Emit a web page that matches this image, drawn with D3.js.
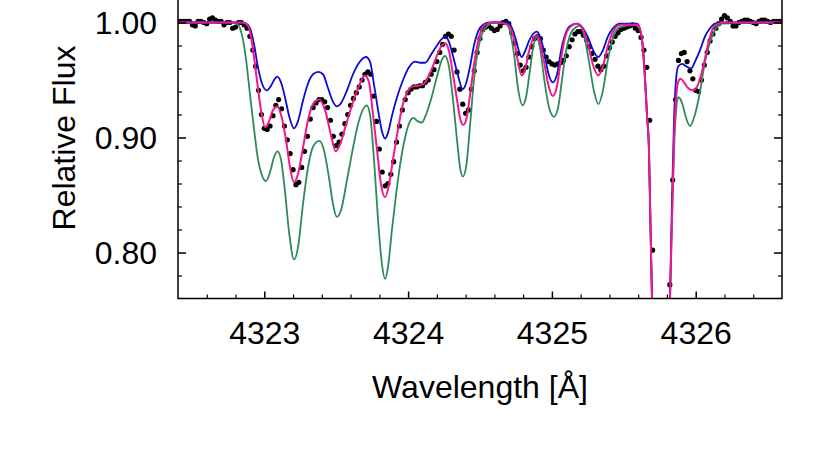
<!DOCTYPE html>
<html><head><meta charset="utf-8">
<script src="https://cdn.jsdelivr.net/npm/d3@7"></script>
<style>
body{margin:0;background:#fff}
svg{display:block}
text{font-family:"Liberation Sans",Arial,Helvetica,sans-serif;fill:#000}
</style>
</head><body>
<svg id="chart" width="830" height="461"></svg>
<script>
// ---------- data ----------
const xTickLabels = [4323, 4324, 4325, 4326];
const yTickLabels = [0.80, 0.90, 1.00];
const xMinorTicks = [4322.6,4322.8,4323.2,4323.4,4323.6,4323.8,4324.2,4324.4,4324.6,4324.8,4325.2,4325.4,4325.6,4325.8,4326.2,4326.4];
const yMinorTicks = [0.78,0.82,0.84,0.86,0.88,0.92,0.94,0.96,0.98];

// observed spectrum: sampled every 0.02 Å starting at 4322.40
const obsStart = 4322.40, obsStep = 0.02;
const obsFlux = [
1.001,1.001,1.001,1.001,1.001,0.998,0.997,1.001,1.001,1.000,
0.999,1.003,1.004,1.002,1.001,1.001,0.998,1.000,1.000,0.995,
0.996,1.000,1.000,0.998,0.995,0.988,0.976,0.962,0.941,0.920,
0.908,0.907,0.910,0.919,0.928,0.933,0.925,0.910,0.898,0.886,
0.872,0.859,0.861,0.874,0.888,0.901,0.916,0.926,0.930,0.933,
0.933,0.931,0.926,0.915,0.901,0.893,0.896,0.903,0.912,0.920,
0.928,0.934,0.939,0.944,0.950,0.955,0.957,0.955,0.936,0.914,
0.890,0.870,0.858,0.860,0.868,0.879,0.896,0.910,0.924,0.933,
0.939,0.942,0.944,0.944,0.945,0.945,0.948,0.950,0.955,0.959,
0.966,0.974,0.981,0.988,0.990,0.988,0.976,0.957,0.942,0.929,
0.921,0.924,0.942,0.958,0.974,0.986,0.994,0.996,0.997,0.995,
0.993,0.994,0.997,1.000,1.001,0.999,0.991,0.982,0.973,0.963,
0.958,0.961,0.970,0.979,0.986,0.988,0.986,0.976,0.970,0.966,
0.964,0.963,0.964,0.965,0.967,0.971,0.979,0.985,0.990,0.992,
0.992,0.989,0.985,0.979,0.973,0.968,0.962,0.959,0.962,0.971,
0.978,0.983,0.988,0.991,0.994,0.995,0.996,0.997,0.998,0.995,
0.993,0.987,0.976,0.961,0.915,0.802,0.672,0.542,0.454,0.542,
0.654,0.772,0.863,0.933,0.967,0.973,0.974,0.966,0.958,0.951,
0.941,0.940,0.950,0.963,0.974,0.984,0.990,0.995,0.999,1.003,
1.006,1.004,1.001,0.997,0.997,1.000,1.001,1.002,1.002,1.001,
1.000,0.999,1.001,1.002,1.002,1.001,1.000,1.001,1.001,1.001,
1.001];

const greenModel = [
[4322.400,1.000],[4322.803,1.000],[4322.831,0.995],[4322.852,0.985],[4322.873,0.968],
[4322.901,0.937],[4322.929,0.907],[4322.956,0.881],[4322.984,0.867],[4323.012,0.862],
[4323.040,0.870],[4323.068,0.883],[4323.091,0.888],[4323.116,0.881],[4323.144,0.853],
[4323.172,0.818],[4323.207,0.794],[4323.234,0.804],[4323.269,0.842],[4323.304,0.874],
[4323.339,0.892],[4323.383,0.897],[4323.415,0.889],[4323.450,0.865],[4323.478,0.842],
[4323.504,0.831],[4323.534,0.837],[4323.575,0.863],[4323.617,0.891],[4323.659,0.915],
[4323.712,0.928],[4323.735,0.920],[4323.763,0.881],[4323.791,0.828],[4323.819,0.789],
[4323.840,0.777],[4323.860,0.787],[4323.888,0.820],[4323.916,0.850],[4323.944,0.876],
[4323.979,0.900],[4324.013,0.914],[4324.036,0.917],[4324.069,0.914],[4324.095,0.913],
[4324.125,0.920],[4324.159,0.933],[4324.201,0.953],[4324.236,0.968],[4324.257,0.971],
[4324.285,0.961],[4324.312,0.933],[4324.340,0.898],[4324.361,0.874],[4324.380,0.866],
[4324.403,0.874],[4324.431,0.911],[4324.458,0.950],[4324.486,0.976],[4324.514,0.990],
[4324.549,0.997],[4324.604,1.000],[4324.681,0.999],[4324.709,0.992],[4324.737,0.972],
[4324.764,0.943],[4324.797,0.928],[4324.820,0.935],[4324.848,0.959],[4324.869,0.978],
[4324.894,0.987],[4324.917,0.978],[4324.945,0.952],[4324.980,0.926],[4325.015,0.918],
[4325.043,0.926],[4325.070,0.950],[4325.098,0.975],[4325.133,0.991],[4325.168,0.996],
[4325.196,0.997],[4325.223,0.989],[4325.258,0.966],[4325.293,0.940],[4325.323,0.929],
[4325.355,0.941],[4325.390,0.968],[4325.425,0.987],[4325.474,0.996],[4325.592,0.998],
[4325.613,0.994],[4325.634,0.976],[4325.648,0.950],[4325.661,0.920],[4325.675,0.889],
[4325.686,0.820],[4325.696,0.759],[4325.755,0.400],[4325.821,0.759],[4325.835,0.828],
[4325.849,0.889],[4325.863,0.922],[4325.879,0.935],[4325.905,0.930],[4325.933,0.917],
[4325.960,0.910],[4325.995,0.920],[4326.030,0.940],[4326.065,0.966],[4326.100,0.983],
[4326.141,0.995],[4326.183,0.999],[4326.600,1.000]];

const blueModel = [
[4322.400,1.000],[4322.831,1.000],[4322.873,0.999],[4322.901,0.995],[4322.929,0.981],
[4322.956,0.961],[4322.984,0.947],[4323.017,0.941],[4323.047,0.945],[4323.068,0.950],
[4323.091,0.953],[4323.116,0.948],[4323.144,0.935],[4323.172,0.919],[4323.207,0.908],
[4323.234,0.914],[4323.269,0.932],[4323.304,0.947],[4323.339,0.955],[4323.376,0.957],
[4323.408,0.955],[4323.443,0.943],[4323.478,0.931],[4323.504,0.927],[4323.534,0.930],
[4323.575,0.941],[4323.617,0.955],[4323.659,0.965],[4323.707,0.970],[4323.735,0.966],
[4323.763,0.946],[4323.791,0.924],[4323.819,0.905],[4323.840,0.899],[4323.860,0.904],
[4323.888,0.919],[4323.923,0.935],[4323.965,0.950],[4324.006,0.961],[4324.048,0.966],
[4324.083,0.965],[4324.118,0.965],[4324.159,0.972],[4324.201,0.980],[4324.229,0.985],
[4324.257,0.988],[4324.285,0.983],[4324.312,0.971],[4324.347,0.954],[4324.380,0.942],
[4324.403,0.947],[4324.431,0.962],[4324.458,0.980],[4324.486,0.992],[4324.521,0.998],
[4324.570,1.000],[4324.695,1.000],[4324.723,0.995],[4324.750,0.985],[4324.771,0.975],
[4324.790,0.970],[4324.813,0.975],[4324.841,0.984],[4324.869,0.990],[4324.894,0.992],
[4324.917,0.988],[4324.945,0.975],[4324.973,0.957],[4325.006,0.948],[4325.036,0.955],
[4325.063,0.975],[4325.091,0.989],[4325.126,0.997],[4325.175,0.999],[4325.216,0.995],
[4325.251,0.987],[4325.286,0.976],[4325.323,0.970],[4325.355,0.976],[4325.390,0.988],
[4325.425,0.995],[4325.474,0.999],[4325.592,0.999],[4325.613,0.994],[4325.634,0.976],
[4325.648,0.950],[4325.661,0.920],[4325.675,0.889],[4325.686,0.820],[4325.696,0.759],
[4325.755,0.400],[4325.821,0.759],[4325.835,0.846],[4325.849,0.915],[4325.863,0.950],
[4325.879,0.962],[4325.905,0.964],[4325.933,0.962],[4325.967,0.960],[4325.995,0.966],
[4326.030,0.976],[4326.065,0.988],[4326.100,0.995],[4326.134,0.999],[4326.183,1.000],
[4326.600,1.000]];

const magentaModel = [
[4322.400,1.000],[4322.831,1.000],[4322.873,0.999],[4322.901,0.992],[4322.922,0.976],
[4322.949,0.950],[4322.977,0.924],[4323.005,0.909],[4323.033,0.914],[4323.061,0.924],
[4323.091,0.927],[4323.116,0.920],[4323.151,0.898],[4323.179,0.874],[4323.207,0.861],
[4323.234,0.868],[4323.269,0.891],[4323.304,0.915],[4323.339,0.929],[4323.381,0.933],
[4323.422,0.924],[4323.464,0.902],[4323.497,0.888],[4323.527,0.894],[4323.568,0.911],
[4323.610,0.928],[4323.652,0.943],[4323.700,0.954],[4323.728,0.948],[4323.756,0.920],
[4323.784,0.889],[4323.812,0.859],[4323.840,0.848],[4323.867,0.859],[4323.895,0.881],
[4323.923,0.902],[4323.958,0.926],[4323.992,0.939],[4324.025,0.944],[4324.069,0.945],
[4324.104,0.946],[4324.152,0.956],[4324.194,0.969],[4324.229,0.979],[4324.257,0.982],
[4324.285,0.975],[4324.312,0.955],[4324.340,0.933],[4324.361,0.917],[4324.384,0.911],
[4324.403,0.915],[4324.431,0.937],[4324.458,0.963],[4324.486,0.983],[4324.514,0.995],
[4324.549,0.999],[4324.604,1.000],[4324.674,0.999],[4324.709,0.996],[4324.737,0.985],
[4324.764,0.966],[4324.790,0.954],[4324.813,0.959],[4324.841,0.975],[4324.869,0.986],
[4324.894,0.989],[4324.917,0.983],[4324.945,0.966],[4324.973,0.947],[4325.006,0.936],
[4325.036,0.945],[4325.063,0.968],[4325.091,0.987],[4325.126,0.996],[4325.173,0.999],
[4325.216,0.994],[4325.251,0.981],[4325.286,0.963],[4325.323,0.954],[4325.355,0.962],
[4325.390,0.980],[4325.425,0.992],[4325.474,0.998],[4325.592,0.998],[4325.613,0.994],
[4325.634,0.976],[4325.648,0.950],[4325.661,0.920],[4325.675,0.889],[4325.686,0.820],
[4325.696,0.759],[4325.755,0.400],[4325.821,0.759],[4325.835,0.828],[4325.849,0.898],
[4325.863,0.933],[4325.877,0.948],[4325.894,0.951],[4325.919,0.948],[4325.947,0.943],
[4325.981,0.941],[4326.016,0.946],[4326.051,0.961],[4326.086,0.981],[4326.120,0.995],
[4326.155,0.999],[4326.204,1.000],[4326.600,1.000]];

const xLabel = "Wavelength [Å]";
const yLabel = "Relative Flux";

// ---------- drawing ----------
const svg = d3.select("#chart");
const L = 178, R = 782, T = -0.5, B = 298.5;
const x = d3.scaleLinear().domain([4322.4, 4326.6]).range([L, R]);
const y = d3.scaleLinear().domain([0.76, 1.02]).range([B, T]);

svg.append("defs").append("clipPath").attr("id","clip")
  .append("rect").attr("x",L).attr("y",T).attr("width",R-L).attr("height",B-T);

const plot = svg.append("g").attr("clip-path","url(#clip)");
const line = d3.line().x(d=>x(d[0])).y(d=>y(d[1])).curve(d3.curveMonotoneX);

const obs = obsFlux.map((f,i)=>[obsStart+i*obsStep, f]);
plot.append("g").selectAll("circle").data(obs).join("circle")
  .attr("cx",d=>x(d[0])).attr("cy",d=>y(d[1])).attr("r",2.6).attr("fill","#000");

plot.append("path").datum(greenModel).attr("d",line).attr("fill","none")
  .attr("stroke","#2e8b57").attr("stroke-width",1.8);
plot.append("path").datum(blueModel).attr("d",line).attr("fill","none")
  .attr("stroke","#0a0ad0").attr("stroke-width",1.8);
plot.append("path").datum(magentaModel).attr("d",line).attr("fill","none")
  .attr("stroke","#f0188c").attr("stroke-width",2);

// frame (left, bottom, right)
svg.append("path")
  .attr("d", d3.line()([[L,T],[L,B],[R,B],[R,T]]))
  .attr("fill","none").attr("stroke","#000").attr("stroke-width",1.5);

// axes with inward ticks
const axB = svg.append("g").attr("transform",`translate(0,${B})`)
  .call(d3.axisBottom(x).tickValues(xTickLabels).tickSize(-7).tickPadding(0).tickFormat(d3.format("d")));
axB.select(".domain").remove();
axB.selectAll("line").attr("stroke-width",1.5);
axB.selectAll("text").attr("font-size","32px").attr("y",45).attr("dy",0);
svg.append("g").attr("transform",`translate(0,${B})`)
  .call(d3.axisBottom(x).tickValues(xMinorTicks).tickSize(-4).tickFormat(""))
  .call(g=>{g.select(".domain").remove(); g.selectAll("line").attr("stroke-width",1.2);});

const axL = svg.append("g").attr("transform",`translate(${L},0)`)
  .call(d3.axisLeft(y).tickValues(yTickLabels).tickSize(-8).tickFormat(d3.format(".2f")));
axL.select(".domain").remove();
axL.selectAll("line").attr("stroke-width",1.5);
axL.selectAll("text").attr("font-size","32px").attr("x",-21).attr("dy","0.35em");
svg.append("g").attr("transform",`translate(${L},0)`)
  .call(d3.axisLeft(y).tickValues(yMinorTicks).tickSize(-4).tickFormat(""))
  .call(g=>{g.select(".domain").remove(); g.selectAll("line").attr("stroke-width",1.2);});

svg.append("g").attr("transform",`translate(${R},0)`)
  .call(d3.axisRight(y).tickValues(yTickLabels).tickSize(-8).tickFormat(""))
  .call(g=>{g.select(".domain").remove(); g.selectAll("line").attr("stroke-width",1.5);});
svg.append("g").attr("transform",`translate(${R},0)`)
  .call(d3.axisRight(y).tickValues(yMinorTicks).tickSize(-4).tickFormat(""))
  .call(g=>{g.select(".domain").remove(); g.selectAll("line").attr("stroke-width",1.2);});

svg.selectAll(".tick text").attr("fill","#000").style("font-family",'"Liberation Sans",Arial,sans-serif');

svg.append("text").attr("x",(L+R)/2).attr("y",398).attr("text-anchor","middle")
  .attr("font-size","32px").text(xLabel);
svg.append("text").attr("transform","translate(75,138) rotate(-90)").attr("text-anchor","middle")
  .attr("font-size","32px").text(yLabel);
</script>
</body></html>
